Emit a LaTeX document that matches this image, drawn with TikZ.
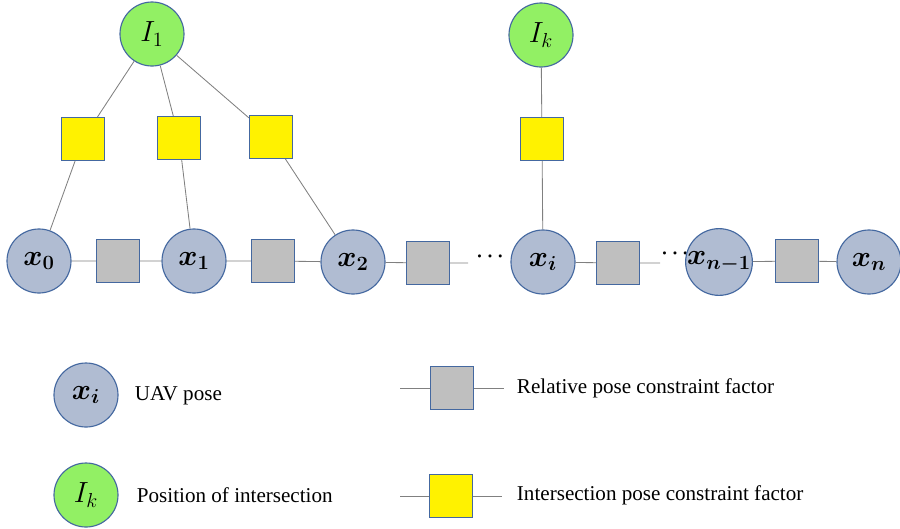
\documentclass[tikz,border=0pt]{standalone}
\usepackage{amsmath}
\usepackage{bm}
\usepackage{fontspec}
\setmainfont{Liberation Serif}
\usetikzlibrary{positioning}

\definecolor{bordblue}{RGB}{68,104,160}
\definecolor{posegray}{RGB}{176,188,210}
\definecolor{lmkgreen}{RGB}{146,240,100}
\definecolor{relgray}{RGB}{191,191,191}
\definecolor{linegray}{RGB}{128,128,128}

\tikzset{
  pose/.style={circle,draw=bordblue,line width=0.8pt,fill=posegray,minimum size=1.6cm,inner sep=0pt,font=\fontsize{20}{24}\selectfont},
  lmk/.style={circle,draw=bordblue,line width=0.8pt,fill=lmkgreen,minimum size=1.6cm,inner sep=0pt,font=\fontsize{20}{24}\selectfont},
  relf/.style={rectangle,draw=bordblue,line width=0.8pt,fill=relgray,minimum size=1.075cm,inner sep=0pt},
  intf/.style={rectangle,draw=bordblue,line width=0.8pt,fill=yellow,minimum size=1.075cm,inner sep=0pt},
  link/.style={draw=linegray,line width=0.6pt},
  legtext/.style={anchor=west,font=\fontsize{15}{18}\selectfont}
}

\begin{document}
\begin{tikzpicture}[x=0.025cm,y=-0.025cm]
    \useasboundingbox (0,0) rectangle (900,528);
    % intersections
    \node[lmk] (I1) at (152,34) {$I_1$};
    \node[lmk] (Ik) at (541,35) {$I_k$};
    \node[intf] (y1) at (83,139) {};
    \node[intf] (y2) at (179,138) {};
    \node[intf] (y3) at (271,137) {};
    \node[intf] (yk) at (542,139) {};
    % pose chain
    \node[pose] (x0) at (39,261) {$\bm{x}_{\bm{0}}$};
    \node[relf] (g1) at (118,261) {};
    \node[pose] (x1) at (194,261) {$\bm{x}_{\bm{1}}$};
    \node[relf] (g2) at (273,261) {};
    \node[pose] (x2) at (353,262) {$\bm{x}_{\bm{2}}$};
    \node[relf] (g3) at (428,263) {};
    \coordinate (e3) at (468,263);
    \node[font=\Large] (d1) at (492,257) {$\bm{\cdots}$};
    \node[pose] (xi) at (543,262) {$\bm{x}_{\bm{i}}$};
    \node[relf] (gi) at (618,263) {};
    \coordinate (ei) at (660,263);
    \node[font=\Large] (d2) at (677,254) {$\bm{\cdots}$};
    \node[pose] (xn1) at (719,262) {$\bm{x}_{\bm{n-1}}$};
    \node[relf] (gn) at (797,261) {};
    \node[pose] (xn) at (869,262) {$\bm{x}_{\bm{n}}$};
    \draw[link] (I1) -- (y1) (y1) -- (x0);
    \draw[link] (I1) -- (y2) (y2) -- (x1);
    \draw[link] (I1) -- (y3) (y3) -- (x2);
    \draw[link] (Ik) -- (yk) (yk) -- (xi);
    \draw[link] (x0) -- (g1) (g1) -- (x1) (x1) -- (g2) (g2) -- (x2) (x2) -- (g3) (g3) -- (e3);
    \draw[link] (xi) -- (gi) (gi) -- (ei);
    \draw[link] (xn1) -- (gn) (gn) -- (xn);
    % legend
    \node[pose] (lx) at (86,395) {$\bm{x}_{\bm{i}}$};
    \node[legtext] (tx) at (130,396) {UAV pose};
    \node[lmk] (lI) at (86,495) {$I_k$};
    \node[legtext] (tI) at (132,495) {Position of intersection};
    \node[relf] (lg) at (452,388) {};
    \coordinate (lga) at (400,388);
    \coordinate (lgb) at (504,388);
    \draw[link] (lga) -- (lg) (lg) -- (lgb);
    \node[legtext] (tg) at (512,388) {Relative pose constraint factor};
    \node[intf] (ly) at (451,496) {};
    \coordinate (lya) at (400,496);
    \coordinate (lyb) at (502,496);
    \draw[link] (lya) -- (ly) (ly) -- (lyb);
    \node[legtext] (ty) at (512,495) {Intersection pose constraint factor};
\end{tikzpicture}
\end{document}
